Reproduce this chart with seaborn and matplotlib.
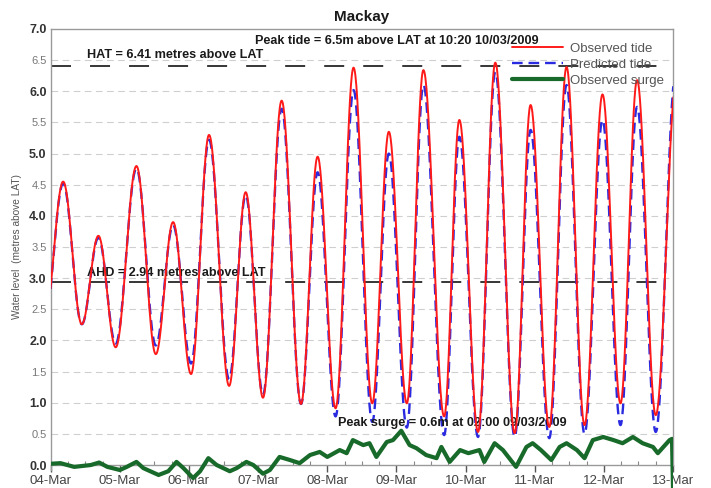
import numpy as np
import pandas as pd
import matplotlib
matplotlib.use("Agg")
import matplotlib.pyplot as plt
import seaborn as sns

sns.set_theme(style="white")
plt.rcParams["font.family"] = ["Liberation Sans", "DejaVu Sans"]

# ---------------- data ----------------
day_labels = ["04-Mar", "05-Mar", "06-Mar", "07-Mar", "08-Mar",
              "09-Mar", "10-Mar", "11-Mar", "12-Mar", "13-Mar"]

# successive high / low water times (days after 04-Mar 00:00) and heights (m above LAT)
obs_t = [-0.09, 0.18, 0.45, 0.69, 0.94, 1.24, 1.52, 1.77, 2.03, 2.29, 2.58, 2.82, 3.07,
         3.34, 3.62, 3.86, 4.12, 4.38, 4.65, 4.89, 5.15, 5.39, 5.69, 5.91, 6.18,
         6.43, 6.71, 6.94, 7.21, 7.46, 7.72, 7.98, 8.24, 8.48, 8.75, 9.05]
obs_h = [2.30, 4.55, 2.26, 3.68, 1.89, 4.80, 1.78, 3.90, 1.46, 5.30, 1.27, 4.38, 1.08,
         5.85, 0.98, 4.95, 0.91, 6.38, 0.99, 5.35, 0.99, 6.34, 0.78, 5.54, 0.53,
         6.46, 0.51, 5.78, 0.61, 6.39, 0.64, 5.95, 0.99, 6.18, 0.80, 6.20]

pred_t = [-0.09, 0.18, 0.45, 0.69, 0.94, 1.24, 1.52, 1.77, 2.03, 2.29, 2.58, 2.82, 3.07,
          3.34, 3.62, 3.86, 4.12, 4.38, 4.65, 4.89, 5.15, 5.39, 5.69, 5.91, 6.18,
          6.43, 6.71, 6.94, 7.21, 7.46, 7.72, 7.98, 8.24, 8.48, 8.75, 9.04]
pred_h = [2.30, 4.52, 2.26, 3.65, 1.95, 4.76, 1.92, 3.85, 1.63, 5.22, 1.38, 4.33, 1.13,
          5.72, 0.98, 4.70, 0.78, 6.02, 0.69, 5.00, 0.60, 6.10, 0.48, 5.27, 0.45,
          6.31, 0.45, 5.38, 0.43, 6.10, 0.50, 5.54, 0.64, 5.75, 0.53, 6.30]

surge_t = [0.00, 0.14, 0.34, 0.58, 0.70, 0.82, 1.00, 1.10, 1.24, 1.34, 1.56, 1.70, 1.82,
           1.92, 2.06, 2.16, 2.28, 2.40, 2.59, 2.69, 2.83, 2.93, 3.07, 3.17, 3.31,
           3.46, 3.60, 3.75, 3.89, 4.00, 4.18, 4.28, 4.37, 4.52, 4.61, 4.71, 4.86,
           4.95, 5.07, 5.19, 5.29, 5.43, 5.58, 5.65, 5.77, 5.92, 6.04, 6.20, 6.27,
           6.42, 6.54, 6.73, 6.88, 6.97, 7.09, 7.24, 7.36, 7.46, 7.61, 7.72, 7.84,
           7.99, 8.14, 8.27, 8.42, 8.56, 8.71, 8.78, 8.95, 8.985, 9.00]
surge_h = [0.02, 0.03, -0.03, 0.00, 0.04, -0.03, -0.08, -0.03, 0.05, -0.05, -0.16, -0.10, 0.05,
           -0.05, -0.21, -0.10, 0.11, 0.00, -0.10, -0.05, 0.05, 0.00, -0.14, -0.08, 0.13,
           0.08, 0.03, 0.16, 0.21, 0.13, 0.24, 0.19, 0.40, 0.32, 0.35, 0.13, 0.37,
           0.40, 0.55, 0.32, 0.27, 0.16, 0.11, 0.29, 0.05, 0.24, 0.19, 0.24, 0.05,
           0.35, 0.24, -0.03, 0.29, 0.35, 0.24, 0.08, 0.29, 0.35, 0.24, 0.11, 0.40,
           0.45, 0.40, 0.35, 0.45, 0.35, 0.29, 0.19, 0.40, 0.42, -0.40]

hat_level = 6.41
ahd_level = 2.94


def smooth_tide(tt, hh, n=40):
    """Draw a tide trace through successive high/low waters (half-cosine shape)."""
    xs, ys = [], []
    for i in range(len(tt) - 1):
        s = np.linspace(0, 1, n, endpoint=False)
        xs.append(tt[i] + (tt[i + 1] - tt[i]) * s)
        ys.append(hh[i] + (hh[i + 1] - hh[i]) * (1 - np.cos(np.pi * s)) / 2)
    xs.append([tt[-1]])
    ys.append([hh[-1]])
    return np.concatenate(xs), np.concatenate(ys)


ox, oy = smooth_tide(obs_t, obs_h)
px, py = smooth_tide(pred_t, pred_h)
df_obs = pd.DataFrame({"t": ox, "h": oy})
df_pred = pd.DataFrame({"t": px, "h": py})
df_surge = pd.DataFrame({"t": surge_t, "h": surge_h})

# ---------------- figure ----------------
fig = plt.figure(figsize=(7.11, 4.88), dpi=100)
ax = fig.add_axes([0.0713, 0.0, 0.8753, 0.9406])

# grid
for yv in np.arange(0.5, 7.0, 0.5):
    ax.axhline(yv, color="#cfcfcf", lw=0.8, ls=(0, (6, 4)), zorder=0)

lw_ref = 1.1
ax.plot([0, 9], [hat_level, hat_level], color="black", lw=lw_ref,
        ls=(0, (14.4 / lw_ref, 13.7 / lw_ref)), zorder=1)
ax.plot([0, 9], [ahd_level, ahd_level], color="black", lw=lw_ref,
        ls=(0, (14.4 / lw_ref, 13.7 / lw_ref)), zorder=1)

sns.lineplot(data=df_obs, x="t", y="h", ax=ax, color="#ff1a1a", lw=1.4,
             sort=False, estimator=None, label="Observed tide", zorder=4)
sns.lineplot(data=df_pred, x="t", y="h", ax=ax, color="#2a2ae0", lw=1.7,
             sort=False, estimator=None, label="Predicted tide", zorder=3,
             dashes=False, linestyle=(0, (4.5, 2.5)))
sns.lineplot(data=df_surge, x="t", y="h", ax=ax, color="#186a2a", lw=3.0,
             sort=False, estimator=None, label="Observed surge", zorder=5)

ax.set_xlim(0, 9)
ax.set_ylim(-0.369, 7.0)

# axes styling
for side in ["top", "right", "left", "bottom"]:
    ax.spines[side].set_color("#9a9a9a")
    ax.spines[side].set_linewidth(1.0)
ax.spines["bottom"].set_position(("data", 0))
ax.spines["left"].set_bounds(-0.08, 7.0)
ax.spines["right"].set_bounds(0.0, 7.0)

ax.set_xticks(range(10))
ax.set_xticklabels(day_labels, fontsize=9.5, color="#444444")
ax.set_xticks(np.arange(0, 9.01, 0.25), minor=True)
ax.tick_params(axis="x", which="major", direction="out", length=5, width=1.0,
               color="#555555", pad=2.0, bottom=True)
ax.tick_params(axis="x", which="minor", direction="in", length=3, width=0.8,
               color="#888888", bottom=True)

yt = np.arange(0, 7.01, 0.5)
ax.set_yticks(yt)
ax.set_yticklabels([f"{v:.1f}" for v in yt])
ax.tick_params(axis="y", length=0, pad=3, left=True)
for lab, v in zip(ax.get_yticklabels(), yt):
    if abs(v - round(v)) < 1e-6:
        lab.set_fontsize(9)
        lab.set_fontweight("bold")
        lab.set_color("#333333")
    else:
        lab.set_fontsize(8)
        lab.set_color("#777777")

ax.set_xlabel("")
ax.set_ylabel("Water level  (metres above LAT)", fontsize=7.3, color="#555555")
ax.yaxis.set_label_coords(-0.046, 0.527)

# annotations
fs_ann = 9.1
ax.text(2.95, 6.80, "Peak tide = 6.5m above LAT at 10:20 10/03/2009",
        fontsize=fs_ann, fontweight="bold", ha="left", va="center", color="#1a1a1a")
ax.text(0.525, 6.58, "HAT = 6.41 metres above LAT",
        fontsize=fs_ann, fontweight="bold", ha="left", va="center", color="#1a1a1a")
ax.text(0.525, 3.09, "AHD = 2.94 metres above LAT",
        fontsize=fs_ann, fontweight="bold", ha="left", va="center", color="#1a1a1a")
ax.text(4.15, 0.67, "Peak surge = 0.6m at 02:00 09/03/2009",
        fontsize=fs_ann, fontweight="bold", ha="left", va="center", color="#1a1a1a")

fig.text(0.509, 1 - 17 / 488, "Mackay", fontsize=11, fontweight="bold",
         ha="center", va="center", color="#1a1a1a")

handles, labels = ax.get_legend_handles_labels()
leg = ax.legend(handles, labels, loc="upper left", bbox_to_anchor=(0.741, 0.971),
                frameon=False, fontsize=9.5, handlelength=3.9, handletextpad=0.5,
                labelspacing=0.3, borderpad=0, borderaxespad=0)
for t in leg.get_texts():
    t.set_color("#555555")

fig.savefig("out.png", dpi=100)
